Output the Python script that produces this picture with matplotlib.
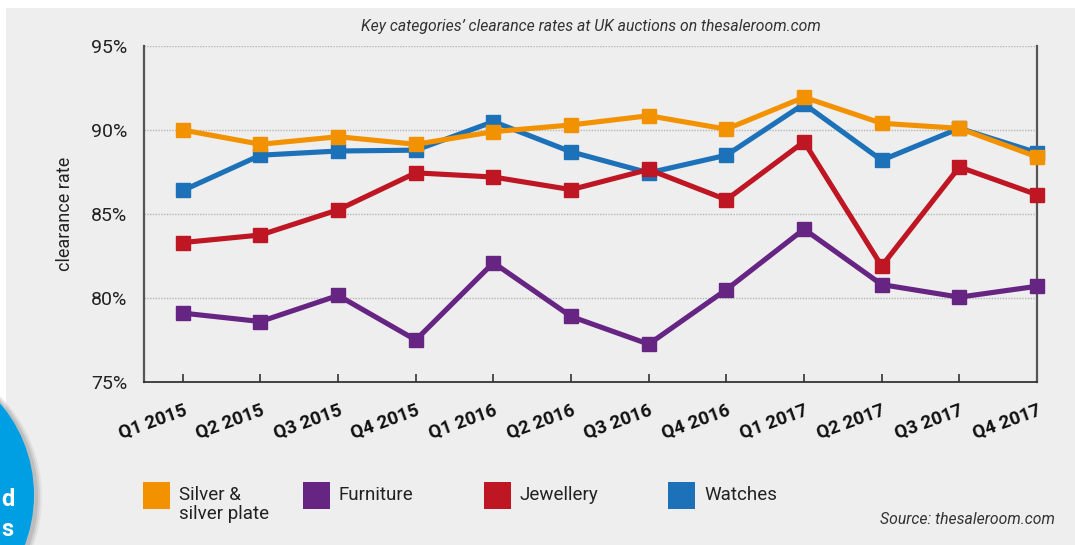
import matplotlib
matplotlib.use("Agg")
import matplotlib.pyplot as plt
from matplotlib.patches import Rectangle, Ellipse

quarters = ['Q1 2015', 'Q2 2015', 'Q3 2015', 'Q4 2015', 'Q1 2016', 'Q2 2016',
            'Q3 2016', 'Q4 2016', 'Q1 2017', 'Q2 2017', 'Q3 2017', 'Q4 2017']
silver = [90.0, 89.15, 89.6, 89.15, 89.9, 90.3, 90.85, 90.05, 91.95, 90.4, 90.1, 88.4]
furniture = [79.1, 78.6, 80.15, 77.5, 82.1, 78.9, 77.25, 80.5, 84.1, 80.8, 80.05, 80.7]
jewellery = [83.3, 83.75, 85.25, 87.45, 87.2, 86.45, 87.65, 85.85, 89.3, 81.9, 87.8, 86.15]
watches = [86.4, 88.5, 88.75, 88.8, 90.5, 88.7, 87.45, 88.5, 91.55, 88.2, 90.1, 88.65]
yticks = [75, 80, 85, 90, 95]

names = ['Silver &\nsilver plate', 'Furniture', 'Jewellery', 'Watches']
colors = ['#f39200', '#662483', '#be1622', '#1d71b8']
series = [silver, furniture, jewellery, watches]

text_col = '#222222'
plt.rcParams['font.family'] = ['Roboto', 'DejaVu Sans']

W, H = 1075, 545
fig = plt.figure(figsize=(W / 100, H / 100), dpi=100)
fig.patch.set_facecolor('white')
# grey panel
fig.add_artist(Rectangle((6 / W, 0), 1, 1 - 8 / H, transform=fig.transFigure,
                         facecolor='#eeeeee', edgecolor='none', zorder=0))

ax = fig.add_axes([144 / W, 1 - 382 / H, (1037 - 144) / W, (382 - 46) / H])
ax.set_facecolor('none')

x = list(range(len(quarters)))
# draw order so that silver sits on top, watches at the bottom
zorders = [4.3, 4.1, 4.2, 4.0]
for k in [3, 1, 2, 0]:
    ax.plot(x, series[k], color=colors[k], lw=3.7, marker='s', ms=10.5,
            solid_joinstyle='miter', zorder=zorders[k], clip_on=False)

ax.set_xlim(-0.5, len(quarters) - 1)
ax.set_ylim(75, 95)
ax.set_yticks(yticks)
ax.set_yticklabels(['{}%'.format(v) for v in yticks], fontsize=14, color=text_col)
ax.set_xticks(x)
ax.set_xticklabels(quarters, rotation=20, ha='right', rotation_mode='anchor',
                   fontsize=13.5, fontweight='bold', color='#111111')
ax.tick_params(axis='y', length=0, pad=12)
ax.tick_params(axis='x', direction='in', length=6, width=1.2, color='#333333', pad=14)
for v in yticks[1:]:
    ax.axhline(v, color='#b5b5b5', lw=1.0, ls=(0, (1, 1)), zorder=1)

ax.spines['top'].set_visible(False)
for s in ['left', 'right']:
    ax.spines[s].set_color('#555555')
    ax.spines[s].set_linewidth(1.6)
ax.spines['bottom'].set_color('#333333')
ax.spines['bottom'].set_linewidth(1.3)
ax.spines['right'].set_zorder(2)

ax.set_ylabel('clearance rate', fontsize=13, color=text_col, labelpad=12)

fig.text(591 / W, 1 - 26 / H, 'Key categories\u2019 clearance rates at UK auctions on thesaleroom.com',
         style='italic', fontsize=11.3, color='#333333', ha='center', va='center')
fig.text(1055 / W, 1 - 519 / H, 'Source: thesaleroom.com', style='italic',
         fontsize=11.3, color='#333333', ha='right', va='center')

# legend
leg_x = [143, 303, 484, 668]
for k in range(len(names)):
    fig.add_artist(Rectangle((leg_x[k] / W, 1 - 509 / H), 27 / W, 27 / H,
                             transform=fig.transFigure, facecolor=colors[k], edgecolor='none'))
    fig.text((leg_x[k] + 36) / W, 1 - 486 / H, names[k], fontsize=13.5,
             color=text_col, ha='left', va='top', linespacing=1.1)

# decorative blue badge at the lower left
for dx, a in [(6, 0.12), (4, 0.18), (2, 0.25)]:
    fig.add_artist(Ellipse(((-107 + dx) / W, 1 - 497 / H), 2 * 143 / W, 2 * 143 / H,
                           transform=fig.transFigure, facecolor='#888888',
                           edgecolor='none', alpha=a))
fig.add_artist(Ellipse((-107 / W, 1 - 495 / H), 2 * 141 / W, 2 * 141 / H,
                       transform=fig.transFigure, facecolor='#009fe3', edgecolor='none'))
fig.text(1 / W, 1 - 500 / H, 'd', color='white', fontweight='bold', fontsize=17,
         ha='left', va='center')
fig.text(1 / W, 1 - 530 / H, 's', color='white', fontweight='bold', fontsize=17,
         ha='left', va='center')

fig.savefig('out.png', dpi=100, facecolor=fig.get_facecolor())
